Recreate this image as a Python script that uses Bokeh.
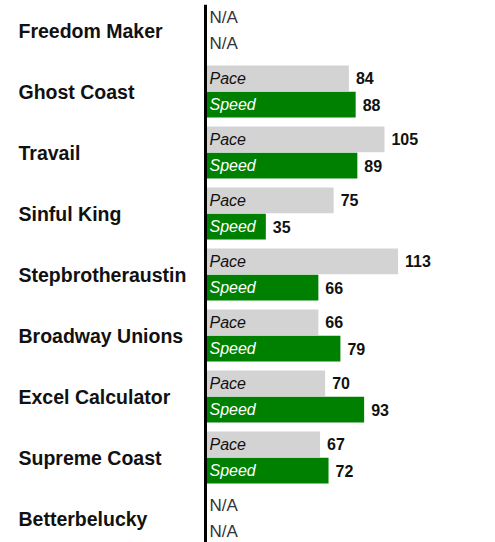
from bokeh.plotting import figure
from bokeh.models import ColumnDataSource, Range1d, Span
from bokeh.core.properties import value
from bokeh.transform import dodge
from bokeh.embed import file_html
from bokeh.resources import INLINE

# ---- data ----
horses = ["Freedom Maker", "Ghost Coast", "Travail", "Sinful King", "Stepbrotheraustin",
          "Broadway Unions", "Excel Calculator", "Supreme Coast", "Betterbelucky"]
pace = [None, 84, 105, 75, 113, 66, 70, 67, None]
speed = [None, 88, 89, 35, 66, 79, 93, 72, None]
pace_name = "Pace"
speed_name = "Speed"
na_text = "N/A"

# ---- style ----
PACE_COLOR = "#d3d3d3"
SPEED_COLOR = "#008000"
FONT = "Liberation Sans"
PX_PER_UNIT = 1.695
W, H = 495, 542
TOP = 4
ROW_PX = 61.0
FIRST_ROW_PX = 26.0    # first row centre below frame top
AXIS_PX = 206          # axis position from the frame's left edge
LABEL_PX = 18          # category label start from frame's left edge
ROW_OFF = 0.215
BAR_H = 0.425

idx = list(range(len(horses)))
x_start = -AXIS_PX / PX_PER_UNIT
x_end = (W - AXIS_PX) / PX_PER_UNIT
y_top = -FIRST_ROW_PX / ROW_PX
y_bot = y_top + (H - TOP) / ROW_PX

p = figure(width=W, height=H, output_backend="svg", toolbar_location=None,
           x_range=Range1d(x_start, x_end), y_range=Range1d(y_bot, y_top),
           min_border=0, min_border_left=0, min_border_right=0,
           min_border_top=TOP, min_border_bottom=0)
p.axis.visible = False
p.grid.visible = False
p.outline_line_color = None
p.background_fill_color = "white"
p.border_fill_color = "white"

# category labels
cat_src = ColumnDataSource(dict(y=idx, name=horses,
                                x=[x_start + LABEL_PX / PX_PER_UNIT] * len(horses)))
p.text(x="x", y="y", text="name", source=cat_src, text_font=value(FONT),
       text_font_style="bold", text_font_size="19.5px", text_color="#111111",
       text_align="left", text_baseline="middle")

# rows with values
rows = [i for i in idx if pace[i] is not None]
bar_src = ColumnDataSource(dict(
    y=rows,
    pace=[pace[i] for i in rows],
    speed=[speed[i] for i in rows],
    pace_lbl=[str(pace[i]) for i in rows],
    speed_lbl=[str(speed[i]) for i in rows],
    pace_name=[pace_name] * len(rows),
    speed_name=[speed_name] * len(rows),
    zero=[0] * len(rows),
))

p.hbar(y=dodge("y", -ROW_OFF, range=p.y_range), left=0, right="pace", height=BAR_H,
       source=bar_src, fill_color=PACE_COLOR, line_color=None)
p.hbar(y=dodge("y", ROW_OFF, range=p.y_range), left=0, right="speed", height=BAR_H,
       source=bar_src, fill_color=SPEED_COLOR, line_color=None)

# names inside bars
p.text(x="zero", y=dodge("y", -ROW_OFF, range=p.y_range), text="pace_name", source=bar_src,
       x_offset=3, text_font=value(FONT), text_font_style="italic", text_font_size="16px",
       text_color="#111111", text_align="left", text_baseline="middle")
p.text(x="zero", y=dodge("y", ROW_OFF, range=p.y_range), text="speed_name", source=bar_src,
       x_offset=3, text_font=value(FONT), text_font_style="italic", text_font_size="16px",
       text_color="white", text_align="left", text_baseline="middle")

# value labels
p.text(x="pace", y=dodge("y", -ROW_OFF, range=p.y_range), text="pace_lbl", source=bar_src,
       x_offset=7, text_font=value(FONT), text_font_style="bold", text_font_size="16px",
       text_color="#111111", text_align="left", text_baseline="middle")
p.text(x="speed", y=dodge("y", ROW_OFF, range=p.y_range), text="speed_lbl", source=bar_src,
       x_offset=7, text_font=value(FONT), text_font_style="bold", text_font_size="16px",
       text_color="#111111", text_align="left", text_baseline="middle")

# N/A rows
na_rows = [i for i in idx if pace[i] is None]
na_src = ColumnDataSource(dict(y=na_rows, zero=[0] * len(na_rows), t=[na_text] * len(na_rows)))
for off in (-ROW_OFF, ROW_OFF):
    p.text(x="zero", y=dodge("y", off, range=p.y_range), text="t", source=na_src,
           x_offset=3, text_font=value(FONT), text_font_size="17px",
           text_color="#333333", text_align="left", text_baseline="middle")

# vertical axis line at zero
p.add_layout(Span(location=-1 / PX_PER_UNIT, dimension="height", line_color="black",
                  line_width=3))

open("out.html", "w").write(file_html(p, INLINE))
